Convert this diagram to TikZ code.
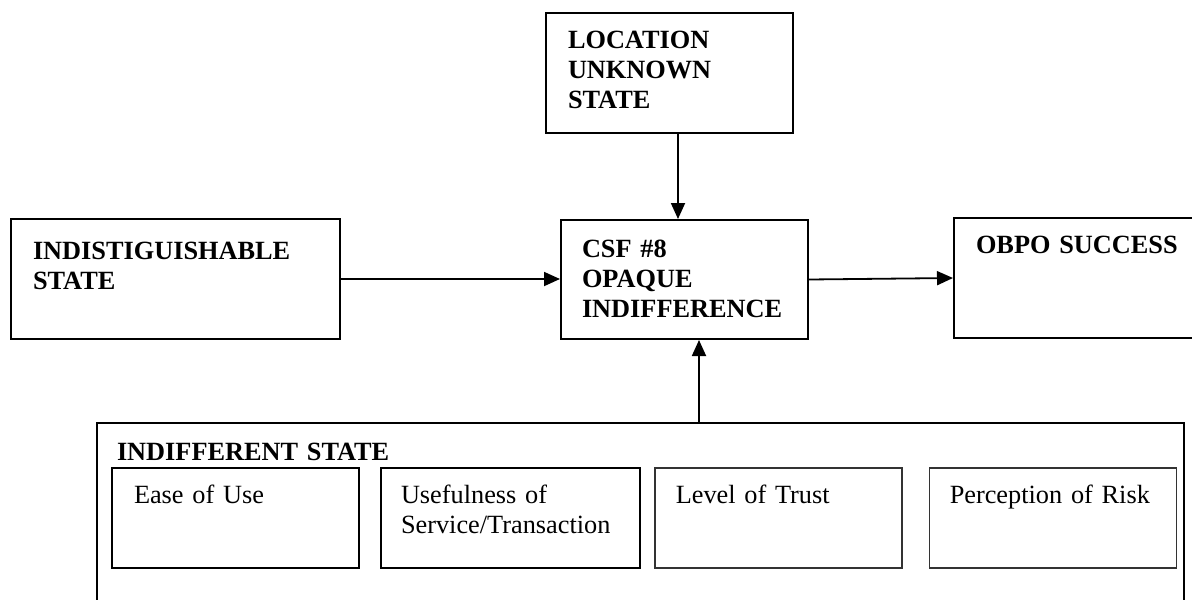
\documentclass[tikz,border=0pt]{standalone}
\usepackage{fontspec}
\setmainfont{Liberation Serif}
\usetikzlibrary{positioning,arrows.meta}

\begin{document}
\begin{tikzpicture}[x=1pt,y=-1pt,font=\fontsize{26.3}{30.2}\selectfont,line width=2pt]
            \tikzstyle{box}=[draw,anchor=north west,inner ysep=0pt,align=left]
            \tikzstyle{sub}=[box,minimum width=247pt,text height=35pt,text depth=65pt]
            \tikzstyle{arr}=[-{Triangle[length=16pt,width=14pt]},line width=1.8pt]
            \useasboundingbox (0,0) rectangle (1192,600);

            \node[box,inner xsep=22pt,text width=203pt,text height=35pt,text depth=85pt] (loc) at (545,12)
                {\textbf{LOCATION}\\\textbf{UNKNOWN}\\\textbf{STATE}};
            \node[box,inner xsep=22pt,text width=285pt,text height=40pt,text depth=80pt] (indist) at (10,218)
                {\textbf{INDISTIGUISHABLE}\\\textbf{STATE}};
            \node[box,inner xsep=21pt,text width=205pt,text height=37pt,text depth=82pt] (csf) at (560,219)
                {\textbf{CSF \#8}\\\textbf{OPAQUE}\\\textbf{INDIFFERENCE}};
            \node[box,inner xsep=22pt,text width=253pt,text height=35pt,text depth=85pt] (obpo) at (953,217)
                {\textbf{OBPO SUCCESS}};

            % indifferent state with its four factors
            \node[box,inner xsep=20pt,text width=1047pt,text height=37pt,text depth=191pt] (indiff) at (96,422)
                {\textbf{INDIFFERENT STATE}};
            \node[sub,inner xsep=22pt,text width=203pt] (ease) at (111,467) {Ease of Use};
            \node[sub,inner xsep=20pt,text width=219pt,right=20pt of ease] (useful) {Usefulness of\\Service/Transaction};
            \node[sub,inner xsep=21pt,text width=205pt,line width=1.5pt,draw=black!80,right=13pt of useful] (trust) {Level of Trust};
            \node[sub,inner xsep=20pt,text width=206pt,line width=1.5pt,draw=black!80,right=26pt of trust] (risk) {Perception of Risk};

            \draw[arr] ([xshift=8.5pt]loc.south) -- ([xshift=8.5pt]loc.south |- csf.north);
            \draw[arr] (indist.east) -- (indist.east -| csf.west);
            \draw[arr] (csf.east) -- (obpo.west);
            \draw[arr] ([xshift=14.5pt]csf.south |- indiff.north) -- ([xshift=14.5pt]csf.south);
        \end{tikzpicture}
\end{document}
